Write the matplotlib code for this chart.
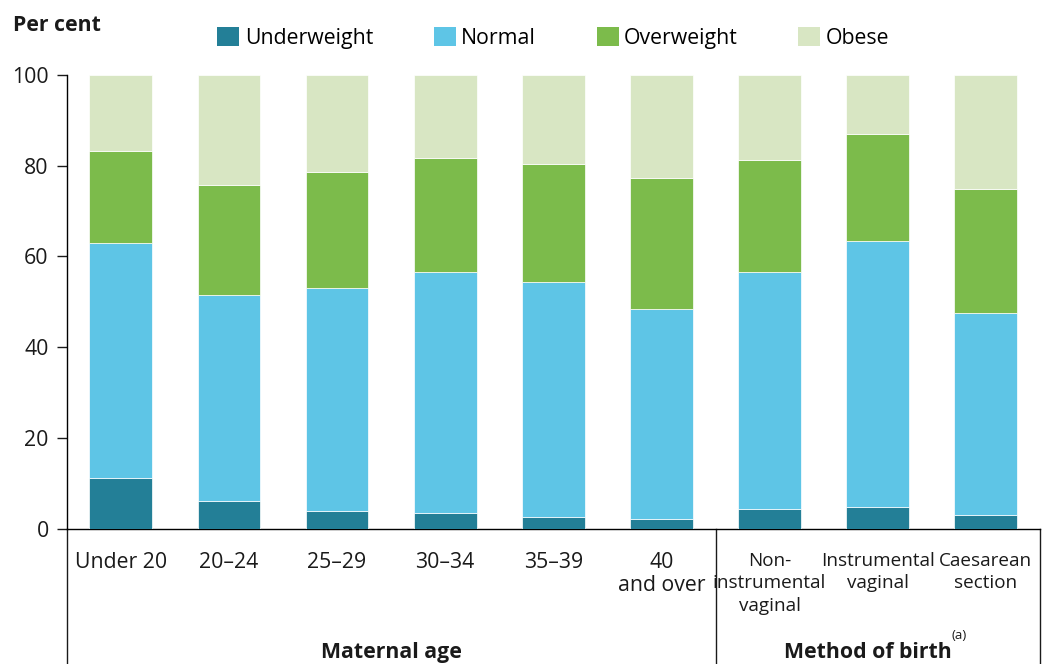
import numpy as np
import matplotlib
matplotlib.use("Agg")
import matplotlib.pyplot as plt
import matplotlib.patches as mpatches
from matplotlib.lines import Line2D

# ── Data ──────────────────────────────────────────────────────────────────────

CATEGORIES = [
    "Under 20", "20–24", "25–29", "30–34", "35–39", "40\nand over",
    "Non-\ninstrumental\nvaginal", "Instrumental\nvaginal", "Caesarean\nsection",
]
SERIES = ["Underweight", "Normal", "Overweight", "Obese"]

underweight = [11.2, 6.1, 4.0, 3.5, 2.6, 2.2, 4.4, 4.8, 3.1]
normal      = [51.7, 45.4, 49.1, 53.0, 51.7, 46.2, 52.1, 58.6, 44.4]
overweight  = [20.4, 24.2, 25.6, 25.1, 26.1, 29.0, 24.8, 23.6, 27.3]
obese       = [16.7, 24.3, 21.3, 18.4, 19.6, 22.6, 18.7, 13.0, 25.2]

GROUPS = ["Maternal age", "Method of birth"]
GROUP_SIZES = [6, 3]

COLORS = ["#237F97", "#5EC5E6", "#7CBB4B", "#D8E6C3"]
INK = "#1a1a1a"
FS = 15.3
FS_SMALL = 13.6   # method-of-birth tick labels are set a bit tighter

# ── Chart ─────────────────────────────────────────────────────────────────────

plt.rcParams["font.family"] = ["Open Sans", "DejaVu Sans"]
plt.rcParams["font.size"] = FS

fig = plt.figure(figsize=(10.42, 6.64), dpi=100)
ax = fig.add_axes([0.064, 0.2037, 0.934, 0.6834])

x = np.arange(len(CATEGORIES))
bottom = np.zeros(len(CATEGORIES))
for name, vals, col in zip(SERIES, [underweight, normal, overweight, obese], COLORS):
    vals = np.array(vals)
    ax.bar(x, vals, bottom=bottom, width=0.58, color=col,
           edgecolor="#FFFFFF", linewidth=0.5, label=name, zorder=3)
    bottom += vals

ax.set_xlim(-0.5, len(CATEGORIES) - 0.5)
ax.set_ylim(0, 100)
ax.set_yticks([0, 20, 40, 60, 80, 100])
ax.tick_params(axis="y", length=7, width=1, color=INK, labelsize=FS, labelcolor=INK, pad=6)
ax.set_xticks(x)
ax.set_xticklabels(CATEGORIES, fontsize=FS, linespacing=1.16, color=INK)
ax.tick_params(axis="x", length=0, pad=16.5)
for lab in ax.get_xticklabels()[GROUP_SIZES[0]:]:
    lab.set_fontsize(FS_SMALL)
    lab.set_linespacing(1.33)

for s in ["top", "right"]:
    ax.spines[s].set_visible(False)
ax.spines["left"].set_linewidth(1)
ax.spines["bottom"].set_linewidth(1)

# Group box lines below the axis
trans = ax.get_xaxis_transform()
edges = np.cumsum([0] + GROUP_SIZES) - 0.5
for e in edges:
    ax.add_line(Line2D([e, e], [0, -0.6], transform=trans, color=INK,
                       linewidth=1, clip_on=False))
for gi, g in enumerate(GROUPS):
    mid = (edges[gi] + edges[gi + 1]) / 2
    shift = -7 if gi == 1 else 0
    t = ax.annotate(g, xy=(mid, -0.272), xycoords=trans, xytext=(shift, 0),
                    textcoords="offset points", ha="center", va="center",
                    fontsize=FS, fontweight="bold", color=INK, annotation_clip=False)
    if gi == 1:
        ax.annotate("(a)", xy=(1, 1), xycoords=t, xytext=(0, 0),
                    textcoords="offset points", ha="left", va="bottom",
                    fontsize=9.5, color=INK, annotation_clip=False)

fig.text(0.012, 0.962, "Per cent", ha="left", va="center",
         fontsize=FS, fontweight="bold", color=INK)

handles = [mpatches.Patch(facecolor=c, label=s) for s, c in zip(SERIES, COLORS)]
fig.legend(handles=handles, loc="center", bbox_to_anchor=(0.531, 0.943), ncol=4,
           frameon=False, fontsize=FS, handlelength=1.04, handleheight=1.04,
           handletextpad=0.25, columnspacing=2.85)

fig.savefig("out.png", dpi=100, facecolor="white")
